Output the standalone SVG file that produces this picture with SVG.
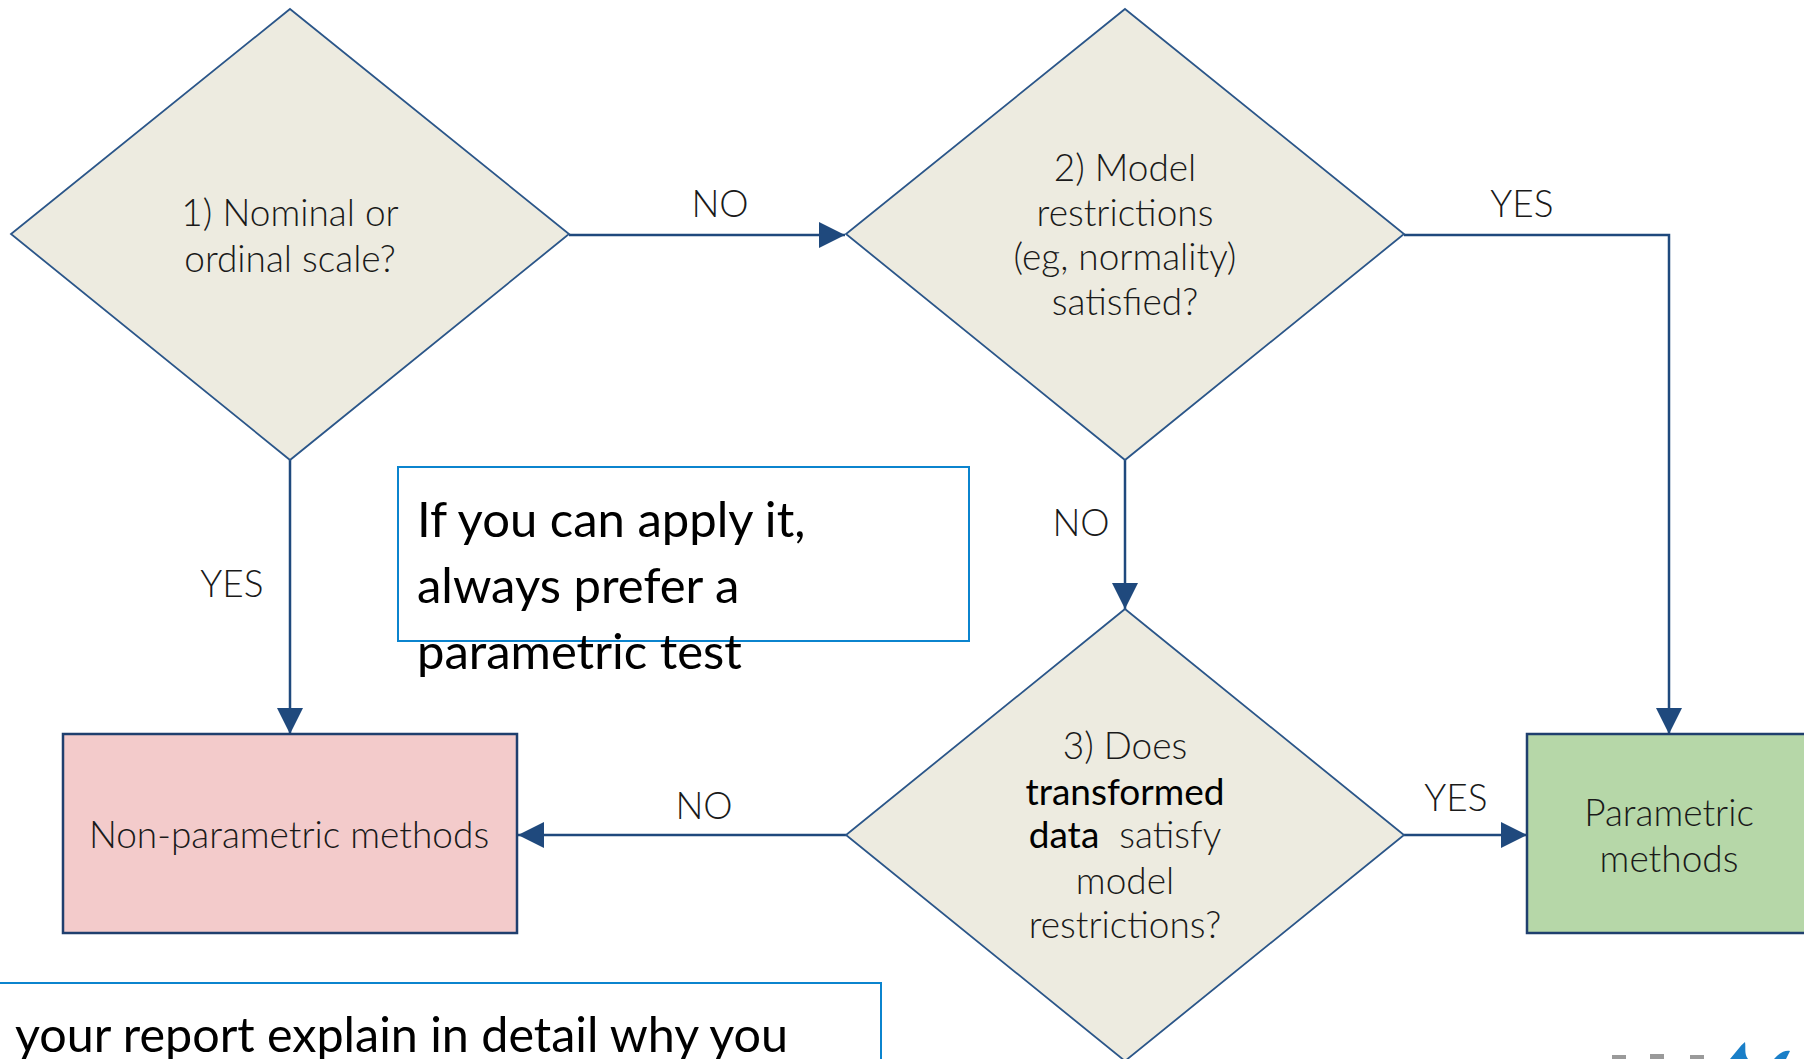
<svg xmlns="http://www.w3.org/2000/svg" width="1804" height="1059" viewBox="0 0 1804 1059">
<defs>
<style>
.dia{fill:#EDEBE0;stroke:#2B5689;stroke-width:1.8}
.box{stroke:#1F3F6E;stroke-width:2.5}
.note{fill:none;stroke:#0B84CE;stroke-width:2}
.lt{font-family:Lato,"Liberation Sans",sans-serif;font-weight:300;font-size:37px;fill:#1a1a1a;text-anchor:middle}
.bd{font-weight:400;fill:#000}
.nt{font-family:Lato,"Liberation Sans",sans-serif;font-weight:400;font-size:49px;fill:#000}
.con{fill:none;stroke:#1F497D;stroke-width:2.5}
</style>
<marker id="arr" viewBox="0 0 26 26" refX="26" refY="13" markerWidth="26" markerHeight="26" markerUnits="userSpaceOnUse" orient="auto">
<path d="M0,0 L26,13 L0,26 Z" fill="#1F497D"/>
</marker>
</defs>
<rect width="1804" height="1059" fill="#FFFFFF"/>

<g id="connectors">
<path class="con" d="M569,235 H845" marker-end="url(#arr)"/>
<path class="con" d="M1404,235 H1669 V734" marker-end="url(#arr)"/>
<path class="con" d="M1125,460 V609" marker-end="url(#arr)"/>
<path class="con" d="M290,460 V734" marker-end="url(#arr)"/>
<path class="con" d="M846,835 H518" marker-end="url(#arr)"/>
<path class="con" d="M1404,835 H1527" marker-end="url(#arr)"/>
<text class="lt" x="720" y="217">NO</text>
<text class="lt" x="1522" y="217">YES</text>
<text class="lt" x="1081" y="536">NO</text>
<text class="lt" x="232" y="597">YES</text>
<text class="lt" x="704" y="819">NO</text>
<text class="lt" x="1456" y="811">YES</text>
</g>

<g id="q1">
<polygon class="dia" points="290,9 569,234 290,460 11,234"/>
<text class="lt" x="290" y="226">1) Nominal or</text>
<text class="lt" x="290" y="272">ordinal scale?</text>
</g>

<g id="q2">
<polygon class="dia" points="1125,9 1404,234 1125,460 846,234"/>
<text class="lt" x="1125" y="181">2) Model</text>
<text class="lt" x="1125" y="226">restrictions</text>
<text class="lt" x="1125" y="270">(eg, normality)</text>
<text class="lt" x="1125" y="315">satisfied?</text>
</g>

<g id="q3">
<polygon class="dia" points="1125,609 1404,835 1125,1061 846,835"/>
<text class="lt" x="1125" y="759">3) Does</text>
<text class="lt bd" x="1125" y="805">transformed</text>
<text class="lt" x="1125" y="848" xml:space="preserve" style="white-space:pre"><tspan class="bd">data</tspan>  satisfy</text>
<text class="lt" x="1125" y="894">model</text>
<text class="lt" x="1125" y="938">restrictions?</text>
</g>

<g id="nonparametric">
<rect class="box" x="63" y="734" width="454" height="199" fill="#F3CBCB"/>
<text class="lt" x="289" y="848">Non-parametric methods</text>
</g>

<g id="parametric">
<rect class="box" x="1527" y="734" width="300" height="199" fill="#B6D7A8"/>
<text class="lt" x="1669" y="826">Parametric</text>
<text class="lt" x="1669" y="872">methods</text>
</g>

<g id="note1">
<rect class="note" x="398" y="467" width="571" height="174"/>
<text class="nt" x="417" y="537">If you can apply it,</text>
<text class="nt" x="417" y="603">always prefer a</text>
<text class="nt" x="417" y="669">parametric test</text>
</g>

<g id="note2">
<rect class="note" x="-4" y="983" width="885" height="100"/>
<text class="nt" x="15" y="1052" textLength="773" lengthAdjust="spacingAndGlyphs">your report explain in detail why you</text>
</g>

<g id="logo">
<rect x="1612" y="1055" width="14" height="5" fill="#9A9A9A"/>
<rect x="1650" y="1054" width="14" height="6" fill="#9A9A9A"/>
<rect x="1690" y="1055" width="14" height="5" fill="#9A9A9A"/>
<path d="M1730,1059 C1736,1052 1740,1046 1745,1042 C1746,1048 1744,1054 1748,1059 Z" fill="#1A7FC8"/>
<path d="M1774,1059 C1779,1053 1785,1050 1790,1051 L1786,1059 Z" fill="#1A7FC8"/>
</g>
</svg>
